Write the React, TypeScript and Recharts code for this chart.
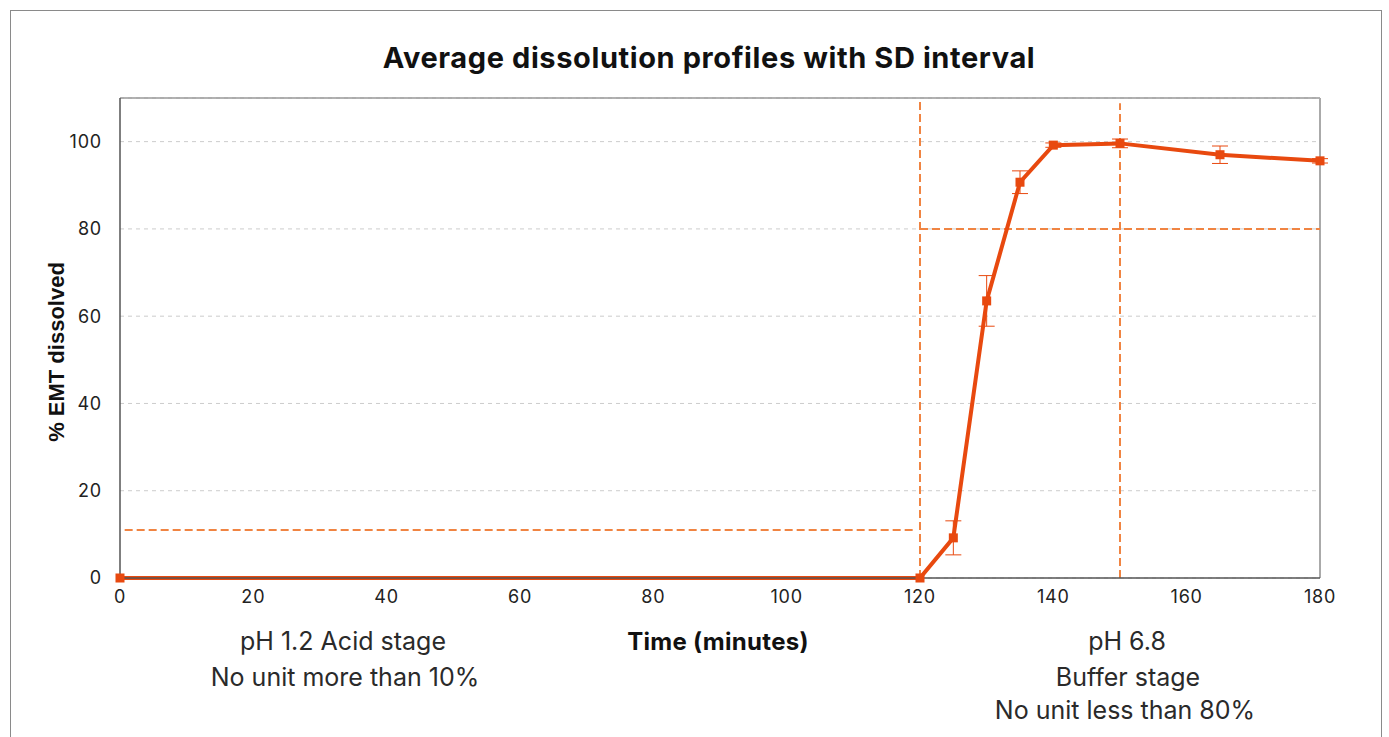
import React from 'react';
import {
  ComposedChart,
  Line,
  XAxis,
  YAxis,
  CartesianGrid,
  ReferenceLine,
  ErrorBar,
} from 'recharts';

// sampling times (minutes)
const times = [0, 120, 125, 130, 135, 140, 150, 165, 180];
// mean % EMT dissolved
const meanDissolved = [0, 0, 9.2, 63.5, 90.7, 99.2, 99.6, 97.0, 95.6];
// standard deviation
const sdDissolved = [0, 0, 3.9, 5.8, 2.6, 0.5, 1.0, 2.0, 0.5];

const xTicks = [0, 20, 40, 60, 80, 100, 120, 140, 160, 180];
const yTicks = [0, 20, 40, 60, 80, 100];

const data = times.map((t, i) => ({ time: t, mean: meanDissolved[i], sd: sdDissolved[i] }));

const LINE = '#E8490F';
const DASH = '#F08442';
const FONT = 'Inter, "Noto Sans", sans-serif';

function SquareDot(props: { cx?: number; cy?: number; index?: number }) {
  const { cx, cy, index } = props;
  if (cx == null || cy == null) return null;
  return <rect key={index} x={cx - 4.5} y={cy - 4.5} width={9} height={9} fill={LINE} />;
}

const textStyle: React.CSSProperties = {
  position: 'absolute',
  fontFamily: FONT,
  color: '#2a2a2a',
  whiteSpace: 'nowrap',
  transform: 'translate(-50%, -50%)',
};

const tickStyle = { fill: '#222', fontSize: 18, fontFamily: FONT, letterSpacing: 0.8 };

export default function App() {
  return (
    <div
      style={{
        position: 'absolute',
        left: 10,
        top: 10,
        width: 1370,
        height: 760,
        border: '1px solid #8a8a8a',
        background: '#fff',
        fontFamily: FONT,
      }}
    >
      <ComposedChart
        width={1370}
        height={740}
        data={data}
        margin={{ top: 87, right: 61, left: 49, bottom: 143 }}
      >
        <CartesianGrid stroke="#cccccc" strokeDasharray="4 4" vertical={false} />
        <XAxis
          dataKey="time"
          type="number"
          domain={[0, 180]}
          ticks={xTicks}
          height={30}
          tick={tickStyle}
          tickLine={false}
          axisLine={{ stroke: '#555', strokeWidth: 1.5 }}
          tickMargin={6}
        />
        <YAxis
          type="number"
          domain={[0, 110]}
          ticks={yTicks}
          width={60}
          tick={tickStyle}
          tickLine={false}
          axisLine={{ stroke: '#555', strokeWidth: 1.5 }}
          tickMargin={12}
        />
        <ReferenceLine y={110} stroke="#999" strokeWidth={1.5} />
        <ReferenceLine x={180} stroke="#aaa" strokeWidth={2} />
        <ReferenceLine x={120} stroke={DASH} strokeWidth={2} strokeDasharray="8 4" />
        <ReferenceLine
          segment={[{ x: 150, y: 0 }, { x: 150, y: 108.8 }]}
          stroke={DASH}
          strokeWidth={2}
          strokeDasharray="8 4"
        />
        <ReferenceLine
          segment={[{ x: 120, y: 80 }, { x: 180, y: 80 }]}
          stroke={DASH}
          strokeWidth={2}
          strokeDasharray="8 4"
        />
        <ReferenceLine
          segment={[{ x: 0.7, y: 11 }, { x: 119.5, y: 11 }]}
          stroke={DASH}
          strokeWidth={2}
          strokeDasharray="8 4"
        />
        <Line
          type="linear"
          dataKey="mean"
          stroke={LINE}
          strokeWidth={4}
          dot={<SquareDot />}
          activeDot={false}
          isAnimationActive={false}
        >
          <ErrorBar dataKey="sd" width={8} stroke={LINE} strokeWidth={1} direction="y" />
        </Line>
      </ComposedChart>

      <div
        style={{
          ...textStyle,
          left: 698,
          top: 46,
          fontSize: 29,
          fontWeight: 700,
          letterSpacing: 0.6,
          color: '#111',
        }}
      >
        Average dissolution profiles with SD interval
      </div>
      <div
        style={{
          ...textStyle,
          left: 46,
          top: 341,
          fontSize: 22,
          fontWeight: 700,
          fontFamily: '"Liberation Sans", Arial, sans-serif',
          color: '#111',
          transform: 'translate(-50%, -50%) rotate(-90deg)',
        }}
      >
        % EMT dissolved
      </div>
      <div
        style={{
          ...textStyle,
          left: 707,
          top: 630,
          fontSize: 24,
          fontWeight: 700,
          letterSpacing: 0.3,
          color: '#111',
        }}
      >
        Time (minutes)
      </div>
      <div style={{ ...textStyle, left: 332, top: 630, fontSize: 25 }}>pH 1.2 Acid stage</div>
      <div style={{ ...textStyle, left: 334, top: 666, fontSize: 25 }}>No unit more than 10%</div>
      <div style={{ ...textStyle, left: 1116, top: 630, fontSize: 25 }}>pH 6.8</div>
      <div style={{ ...textStyle, left: 1117, top: 666, fontSize: 25 }}>Buffer stage</div>
      <div style={{ ...textStyle, left: 1114, top: 699, fontSize: 25 }}>No unit less than 80%</div>
    </div>
  );
}
